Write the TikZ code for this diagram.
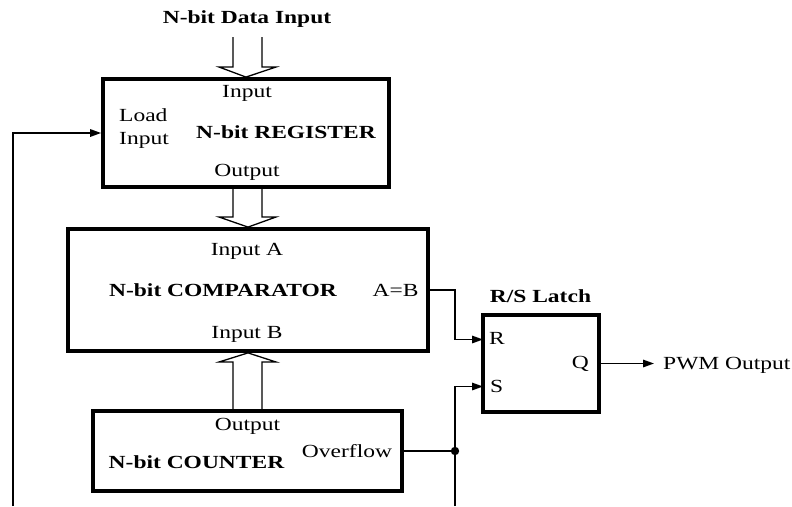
\documentclass[tikz,border=0pt]{standalone}
\usepackage{fontspec}
\setmainfont{Liberation Serif}[FakeStretch=1.27]
\usetikzlibrary{arrows.meta}
\begin{document}
\begin{tikzpicture}[x=1pt,y=-1pt,
  blk/.style={draw, line width=3.8pt, inner sep=0pt, rectangle},
  lbl/.style={inner sep=0pt, anchor=base, font=\fontsize{18.5}{21}\selectfont},
  blbl/.style={lbl, font=\fontsize{18.5}{21}\selectfont\bfseries},
  conn/.style={line width=1.6pt},
  arr/.style={conn, -{Triangle[length=11pt,width=7.5pt]}},
  bus/.style={line width=1.3pt, line join=miter}]
\useasboundingbox (0,0) rectangle (792,506);
% blocks
\node[blk, minimum width=286pt, minimum height=108pt] (reg) at (246,133) {};
\node[blk, minimum width=360pt, minimum height=122pt] (cmp) at (248,290) {};
\node[blk, minimum width=309pt, minimum height=80pt] (cnt) at (247.5,451) {};
\node[blk, minimum width=116pt, minimum height=97pt] (lat) at (541,363.5) {};
% texts
\node[blbl] (title) at (247,23.5) {N-bit Data Input};
\node[lbl] (regin) at (247,97) {Input};
\node[lbl, anchor=base west, align=left] (load) at (119,144) {Load\\[1.5pt]Input};
\node[blbl] (regname) at (286,138) {N-bit REGISTER};
\node[lbl] (regout) at (247,176) {Output};
\node[lbl] (cina) at (247,255) {Input A};
\node[blbl] (cmpname) at (223,296) {N-bit COMPARATOR};
\node[lbl] (aeqb) at (395.5,296) {A=B};
\node[lbl] (cinb) at (247,338) {Input B};
\node[lbl] (cntout) at (247.5,430) {Output};
\node[blbl] (cntname) at (196.5,468) {N-bit COUNTER};
\node[lbl] (ovf) at (347,457) {Overflow};
\node[blbl] (latname) at (540.5,302) {R/S Latch};
\node[lbl, anchor=base west] (rl) at (489,344) {R};
\node[lbl, anchor=base west] (sl) at (490,392) {S};
\node[lbl, anchor=base east] (ql) at (589,368) {Q};
\node[lbl, anchor=base west] (pwm) at (663,369) {PWM Output};
% buses
\draw[bus] (233,37) -- (233,67) -- (219,67) -- (reg.north) -- (276,67) -- (262,67) -- (262,37);
\draw[bus] (233,187) -- (233,217) -- (219,217) -- (cmp.north) -- (276,217) -- (262,217) -- (262,187);
\draw[bus] (233,411) -- (233,362) -- (219,362) -- (cmp.south) -- (276,362) -- (262,362) -- (262,411);
% connectors
\coordinate (fb) at (13,506);
\coordinate (bot) at (455,506);
\coordinate (j) at (455,451);
\coordinate (rpin) at (483,339.5);
\coordinate (spin) at (483,386.5);
\draw[arr] (fb) |- (reg.west);
\draw[arr] (cmp.east) -- (455,290) |- (rpin);
\draw[conn] (cnt.east) -- (j);
\draw[arr] (bot) -- (j) |- (spin);
\fill (j) circle (4.2pt);
\draw[arr, shorten >=9pt] (lat.east) -- (lat.east -| pwm.west);
\end{tikzpicture}
\end{document}
